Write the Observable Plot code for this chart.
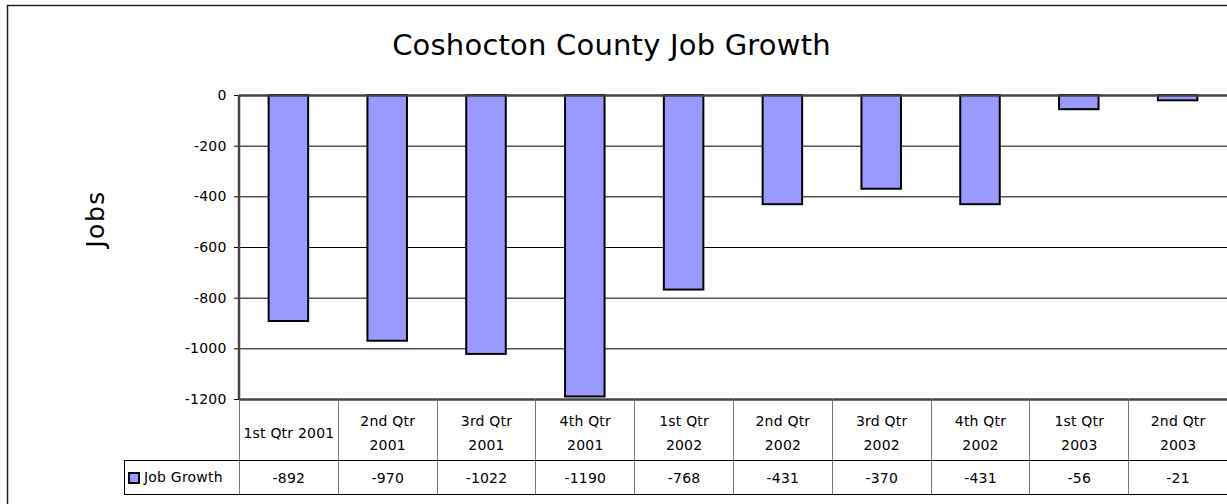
<!DOCTYPE html>
<html>
<head>
<meta charset="utf-8">
<script src="https://cdn.jsdelivr.net/npm/d3@7"></script>
<script src="https://cdn.jsdelivr.net/npm/@observablehq/plot@0.6"></script>
<style>
  html, body { margin: 0; padding: 0; background: #fff; }
  #chart { position: relative; width: 1227px; height: 504px; overflow: hidden; }
</style>
</head>
<body>
<div id="chart"></div>
<script>
// ---- data ----
const chartTitle = "Coshocton County Job Growth";
const yLabel = "Jobs";
const seriesName = "Job Growth";
const categories = ["1st Qtr 2001", "2nd Qtr 2001", "3rd Qtr 2001", "4th Qtr 2001", "1st Qtr 2002", "2nd Qtr 2002", "3rd Qtr 2002", "4th Qtr 2002", "1st Qtr 2003", "2nd Qtr 2003"];
const categoryLabels = [["1st Qtr 2001"], ["2nd Qtr", "2001"], ["3rd Qtr", "2001"], ["4th Qtr", "2001"], ["1st Qtr", "2002"], ["2nd Qtr", "2002"], ["3rd Qtr", "2002"], ["4th Qtr", "2002"], ["1st Qtr", "2003"], ["2nd Qtr", "2003"]];
const jobGrowth = [-892, -970, -1022, -1190, -768, -431, -370, -431, -56, -21];
const yTicks = [0, -200, -400, -600, -800, -1000, -1200];

const data = categories.map((c, i) => ({cat: c, value: jobGrowth[i], label: categoryLabels[i].join("\n")}));

const W = 1227, H = 504;
const FONT = "DejaVu Sans, Verdana, sans-serif";

const plot = Plot.plot({
  width: W,
  height: H,
  marginTop: 95,
  marginBottom: 105,
  marginLeft: 239,
  marginRight: 0,
  style: {fontFamily: FONT, fontSize: "14px", color: "#000", background: "transparent", overflow: "visible", letterSpacing: "0.2px"},
  x: {domain: categories, paddingInner: 0.6, paddingOuter: 0.3, round: false, axis: null},
  y: {domain: [-1200, 0], ticks: yTicks, tickSize: 5, tickPadding: 8, label: null, tickFormat: d => String(d)},
  marks: [
    Plot.ruleY(yTicks.filter(t => t !== 0 && t !== -1200), {stroke: "#000", strokeWidth: 1}),
    Plot.barY(data, {x: "cat", y: "value", fill: "#9999FF", stroke: "#000", strokeWidth: 2}),
    Plot.ruleY([0], {stroke: "#444", strokeWidth: 2.5}),
    Plot.ruleY([-1200], {stroke: "#444", strokeWidth: 2.5}),
    Plot.text(data, {x: "cat", text: "label", frameAnchor: "bottom", dy: 30.5, lineAnchor: "middle", lineHeight: 1.71, fill: "#000", fontSize: 14}),
    Plot.text(data, {x: "cat", text: d => String(d.value), frameAnchor: "bottom", dy: 79, lineAnchor: "middle", fill: "#000", fontSize: 14})
  ]
});

document.getElementById("chart").appendChild(plot);

// ---- extra decorations using the plot's own scales ----
const svg = d3.select(plot);
const xs = plot.scale("x");
const ys = plot.scale("y");
const bw = xs.bandwidth;
const step = xs.step != null ? xs.step : (xs.apply(categories[1]) - xs.apply(categories[0]));
const left0 = xs.apply(categories[0]) + bw / 2 - step / 2;
const yTop = ys.apply(0), yBot = ys.apply(-1200);
const row1 = yBot + 61, row2 = yBot + 95;

const g = svg.append("g").attr("text-anchor", "start");
// outer chart area border
g.append("path").attr("d", `M7.5,${H} V5.5 H${W}`).attr("fill", "none").attr("stroke", "#222").attr("stroke-width", 1.5);

// table vertical separators
categories.forEach((c, i) => {
  const xl = Math.round(xs.apply(c) + bw / 2 - step / 2) + 0.5;
  g.append("line").attr("x1", xl).attr("x2", xl).attr("y1", yBot).attr("y2", row2).attr("stroke", "#777").attr("stroke-width", 1);
});
// horizontal lines of table
const legendLeft = Math.round(left0) - 115;
g.append("line").attr("x1", legendLeft).attr("x2", W).attr("y1", row1 + 0.5).attr("y2", row1 + 0.5).attr("stroke", "#000");
g.append("line").attr("x1", legendLeft).attr("x2", W).attr("y1", row2 + 0.5).attr("y2", row2 + 0.5).attr("stroke", "#000");
g.append("line").attr("x1", legendLeft + 0.5).attr("x2", legendLeft + 0.5).attr("y1", row1).attr("y2", row2 + 1).attr("stroke", "#000");

// left axis line
g.append("line").attr("x1", left0).attr("x2", left0).attr("y1", yTop).attr("y2", yBot).attr("stroke", "#444").attr("stroke-width", 2.5);

// legend key in table
g.append("rect").attr("x", legendLeft + 5).attr("y", row1 + 13).attr("width", 10).attr("height", 10)
  .attr("fill", "#9999FF").attr("stroke", "#000").attr("stroke-width", 2);
g.append("text").attr("x", legendLeft + 20).attr("y", (row1 + row2) / 2 + 5).attr("text-anchor", "start")
  .attr("font-family", FONT).attr("font-size", 14).attr("letter-spacing", "0.2px").attr("fill", "#000").text(seriesName);

// title
g.append("text").attr("x", W / 2 - 2).attr("y", 55).attr("text-anchor", "middle")
  .attr("font-family", FONT).attr("font-size", 29).attr("font-weight", 400).attr("letter-spacing", "0.2px").attr("fill", "#000").text(chartTitle);

// y label
g.append("text").attr("transform", `translate(104,219) rotate(-90)`).attr("text-anchor", "middle")
  .attr("font-family", FONT).attr("font-size", 25).attr("font-weight", 400).attr("letter-spacing", "1.5px").attr("fill", "#000").text(yLabel);
</script>
</body>
</html>
